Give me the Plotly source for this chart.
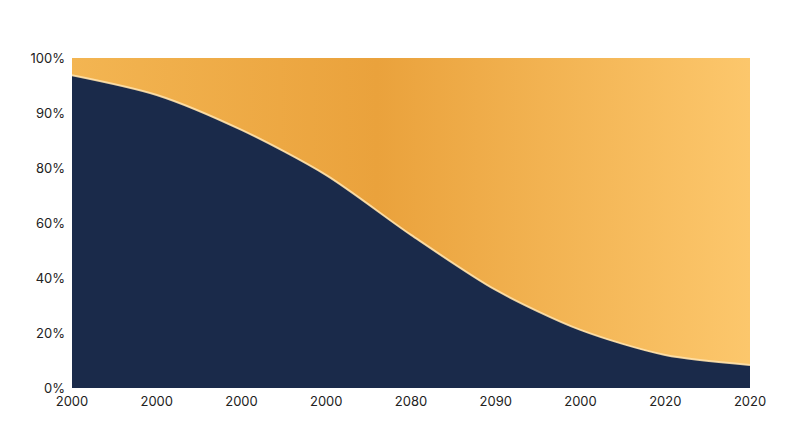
import plotly.graph_objects as go

x_pos = [0, 1, 2, 3, 4, 5, 6, 7, 8]
x_labels = ["2000", "2000", "2000", "2000", "2080", "2090", "2000", "2020", "2020"]
navy = [94.8, 88.8, 78.2, 64.5, 46.4, 29.7, 17.6, 10.0, 7.0]
orange = [100 - v for v in navy]
y_tickvals = [0, 100/6, 200/6, 300/6, 400/6, 500/6, 100]
y_ticktext = ["0%", "20%", "40%", "60%", "80%", "90%", "100%"]

fig = go.Figure()
fig.add_trace(go.Scatter(
    x=x_pos, y=navy, stackgroup="s", mode="lines",
    line=dict(color="rgba(255,225,170,0.9)", width=2, shape="spline", smoothing=0.8),
    fillcolor="#1A2A4A", hoverinfo="skip"))
fig.add_trace(go.Scatter(
    x=x_pos, y=orange, stackgroup="s", mode="lines",
    line=dict(color="rgba(0,0,0,0)", width=0, shape="spline", smoothing=0.8),
    fillgradient=dict(type="horizontal",
                      colorscale=[[0, "#F3B552"], [0.45, "#EAA23C"], [1, "#FCC76C"]]),
    hoverinfo="skip"))

fig.update_layout(
    width=800, height=447, showlegend=False,
    paper_bgcolor="white", plot_bgcolor="white",
    margin=dict(l=64, r=58, t=50, b=67),
    font=dict(family="Inter", size=13, color="#222"),
    xaxis=dict(tickvals=x_pos, ticktext=x_labels, range=[0, 8],
               showgrid=False, zeroline=False, showline=False, ticks="",
               ticklabelstandoff=4),
    yaxis=dict(tickvals=y_tickvals, ticktext=y_ticktext, range=[0, 100],
               showgrid=False, zeroline=False, showline=False, ticks="",
               ticklabelstandoff=6),
)
fig.write_html("out.html")
